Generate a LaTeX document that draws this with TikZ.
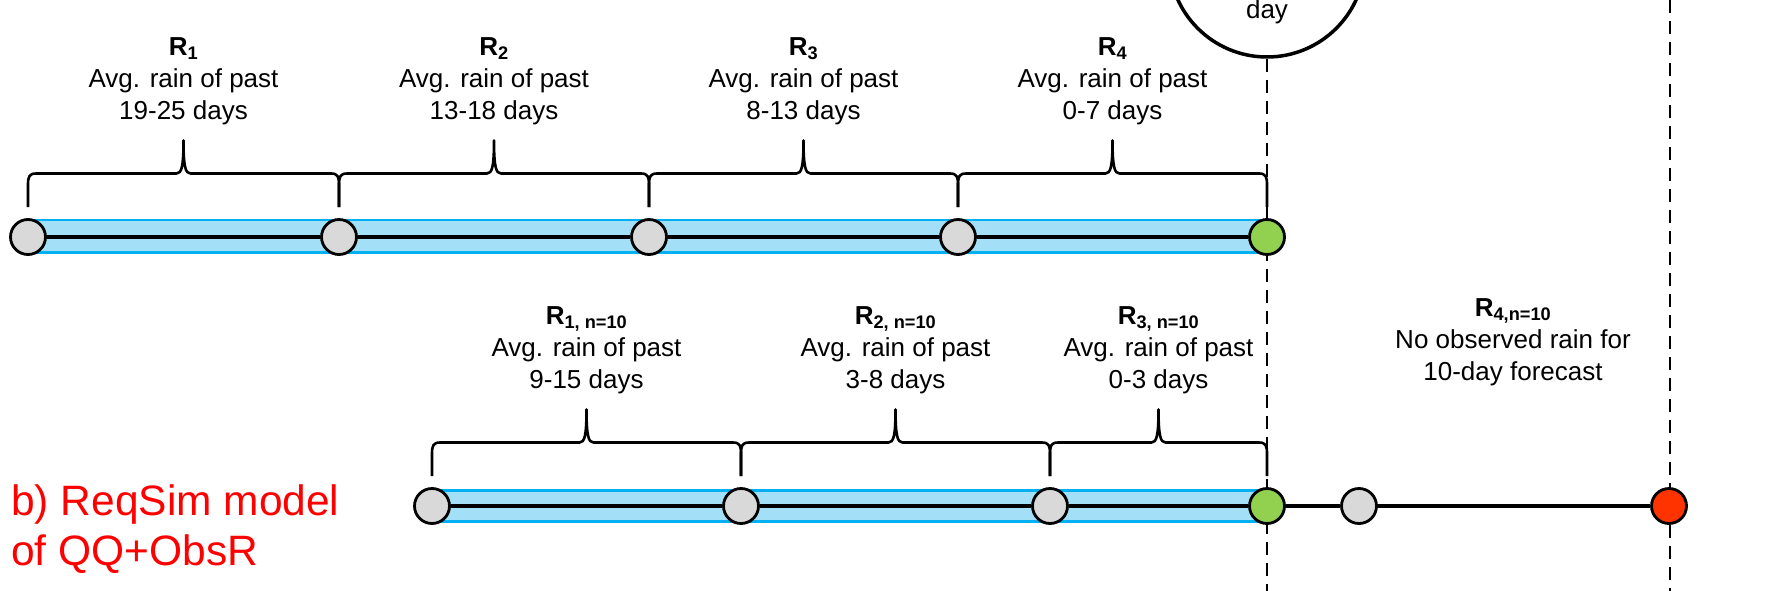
\documentclass[tikz,border=0pt]{standalone}
\usepackage{fontspec}
\setmainfont{Liberation Sans}
\usetikzlibrary{calc,backgrounds}
\definecolor{nodegray}{HTML}{D9D9D9}
\definecolor{nodegreen}{HTML}{92D050}
\definecolor{nodered}{HTML}{FF3300}
\definecolor{bandfill}{HTML}{A3E0F7}
\definecolor{bandline}{HTML}{00B0F0}
\definecolor{titlered}{HTML}{FF0000}
\newcommand\mybrace[2]{%
 \coordinate (bm) at ($(#1.center)!0.5!(#2.center)$);
 \draw[brc] ($(#1.center)+(0,-30)$) -- ($(#1.center)+(0,-52)$)
  .. controls ($(#1.center)+(0,-60)$) and ($(#1.center)+(1,-63.5)$) .. ($(#1.center)+(8,-63.5)$)
  -- ($(bm)+(-7,-63.5)$)
  .. controls ($(bm)+(-2,-63.5)$) and ($(bm)+(0,-70)$) .. ($(bm)+(0,-96.5)$)
  .. controls ($(bm)+(0,-70)$) and ($(bm)+(2,-63.5)$) .. ($(bm)+(7,-63.5)$)
  -- ($(#2.center)+(-8,-63.5)$)
  .. controls ($(#2.center)+(-1,-63.5)$) and ($(#2.center)+(0,-60)$) .. ($(#2.center)+(0,-52)$)
  -- ($(#2.center)+(0,-30)$);}
\begin{document}
\begin{tikzpicture}[x=1pt,y=-1pt,
 tp/.style={circle,draw=black,line width=2.8pt,minimum size=35pt,inner sep=0pt,fill=nodegray},
 tpgreen/.style={tp,fill=nodegreen},
 tpred/.style={tp,fill=nodered},
 tline/.style={line width=4.5pt,draw=black},
 bandrect/.style={fill=bandfill,draw=none},
 bandedge/.style={draw=bandline,line width=2.8pt},
 brc/.style={draw=black,line width=2.6pt,line cap=butt,line join=round},
 vdash/.style={draw=black,line width=2pt,dash pattern=on 13pt off 8pt},
 lbl/.style={align=center,font=\fontsize{26}{32}\selectfont,inner sep=0pt},
 ttl/.style={anchor=base west,text=titlered,font=\fontsize{42.5}{50}\selectfont,inner sep=0pt},
 fcirc/.style={circle,draw=black,line width=3.5pt,minimum size=196pt,inner sep=0pt}
]
\useasboundingbox (0,0) rectangle (1771,591);

% forecast circle
\node[fcirc] (fc) at (1267,-41) {};
\node[lbl] (dayl) at (1267,12) {day};
\coordinate (d1end) at (1267,591);
\coordinate (d2top) at (1670,0);
\coordinate (d2end) at (1670,591);

% top row points
\node[tp] (t1) at (28,237) {};
\node[tp] (t2) at (339,237) {};
\node[tp] (t3) at (649,237) {};
\node[tp] (t4) at (958,237) {};
\node[tpgreen] (t5) at (1267,237) {};

% bottom row points
\node[tp] (b1) at (432,506) {};
\node[tp] (b2) at (741,506) {};
\node[tp] (b3) at (1050,506) {};
\node[tpgreen] (b4) at (1267,506) {};
\node[tp] (b5) at (1359,506) {};
\node[tpred] (b6) at (1669,506) {};

\begin{pgfonlayer}{background}
 \fill[bandrect] ($(t1.center)+(0,-17)$) rectangle ($(t5.center)+(0,15.5)$);
 \draw[bandedge] ($(t1.center)+(0,-17)$) -- ($(t5.center)+(0,-17)$);
 \draw[bandedge] ($(t1.center)+(0,15.5)$) -- ($(t5.center)+(0,15.5)$);
 \fill[bandrect] ($(b1.center)+(0,-15.5)$) rectangle ($(b4.center)+(0,15.5)$);
 \draw[bandedge] ($(b1.center)+(0,-15.5)$) -- ($(b4.center)+(0,-15.5)$);
 \draw[bandedge] ($(b1.center)+(0,15.5)$) -- ($(b4.center)+(0,15.5)$);
 \draw[vdash] (fc.south) -- (d1end);
 \draw[vdash] (d2top) -- (d2end);
 \draw[tline] (t1) -- (t2) -- (t3) -- (t4) -- (t5);
 \draw[tline] (b1) -- (b2) -- (b3) -- (b4) -- (b5) -- (b6);
\end{pgfonlayer}

% braces
\mybrace{t1}{t2}
\mybrace{t2}{t3}
\mybrace{t3}{t4}
\mybrace{t4}{t5}
\mybrace{b1}{b2}
\mybrace{b2}{b3}
\mybrace{b3}{b4}

% labels
\node[lbl] (l1) at (183.5,81) {\textbf{R\textsubscript{1}}\\Avg. rain of past\\19-25 days};
\node[lbl] (l2) at (494,81) {\textbf{R\textsubscript{2}}\\Avg. rain of past\\13-18 days};
\node[lbl] (l3) at (803.5,81) {\textbf{R\textsubscript{3}}\\Avg. rain of past\\8-13 days};
\node[lbl] (l4) at (1112.5,81) {\textbf{R\textsubscript{4}}\\Avg. rain of past\\0-7 days};
\node[lbl] (m1) at (586.5,350) {\textbf{R\textsubscript{1, n=10}}\\Avg. rain of past\\9-15 days};
\node[lbl] (m2) at (895.5,350) {\textbf{R\textsubscript{2, n=10}}\\Avg. rain of past\\3-8 days};
\node[lbl] (m3) at (1158.5,350) {\textbf{R\textsubscript{3, n=10}}\\Avg. rain of past\\0-3 days};
\node[lbl] (m4) at (1513,342) {\textbf{R\textsubscript{4,n=10}}\\No observed rain for\\10-day forecast};

% title
\node[ttl] (ttl1) at (11,515) {b) ReqSim model};
\node[ttl] (ttl2) at (11,565) {of QQ+ObsR};
\end{tikzpicture}
\end{document}
